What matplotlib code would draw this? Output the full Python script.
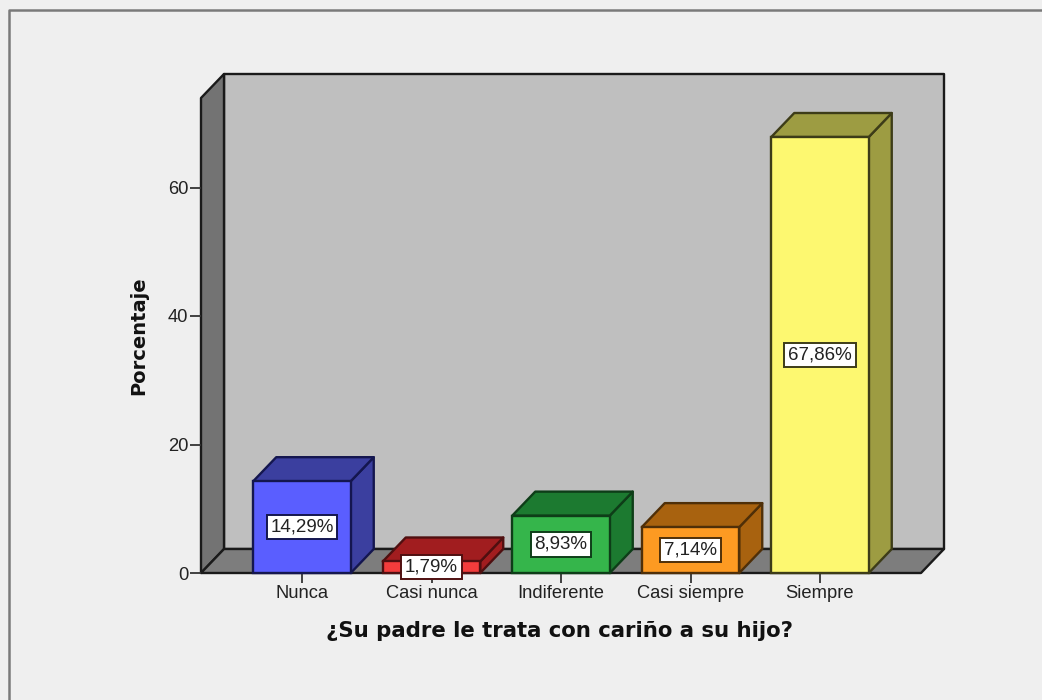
import matplotlib
matplotlib.use("Agg")
import matplotlib.pyplot as plt
from matplotlib.lines import Line2D
from matplotlib.patches import Polygon

categories = ["Nunca", "Casi nunca", "Indiferente", "Casi siempre", "Siempre"]
percent = [14.29, 1.79, 8.93, 7.14, 67.86]
percent_labels = ["14,29%", "1,79%", "8,93%", "7,14%", "67,86%"]
y_ticks = [0, 20, 40, 60]

front_colors = ["#5a5eff", "#f23c3c", "#35b54b", "#fd9a22", "#fdf870"]
shade_colors = ["#3b3f9f", "#a11d1f", "#1c7a30", "#a8620f", "#9d9c42"]
edge_colors = ["#14164f", "#4f0f10", "#0e3d18", "#4f2f08", "#3d3c18"]

FIG_W, FIG_H = 1042, 700
LEFT, RIGHT, BOTTOM, TOP = 201, 921, 573, 98
X0, X_STEP = 302, 129.5
Y_SCALE = 6.425
BG = "#efefef"
LINE = "#1a1a1a"

x_min = (LEFT - X0) / X_STEP
x_max = (RIGHT - X0) / X_STEP
y_max = (BOTTOM - TOP) / Y_SCALE
depth_x = 23 / X_STEP
depth_y = 24 / Y_SCALE
bar_width = 97.5 / X_STEP

plt.rcParams["font.family"] = ["Liberation Sans", "DejaVu Sans"]

fig = plt.figure(figsize=(FIG_W / 100, FIG_H / 100), dpi=100, facecolor=BG)
ax = fig.add_axes([
    LEFT / FIG_W,
    1 - BOTTOM / FIG_H,
    (RIGHT - LEFT) / FIG_W,
    (BOTTOM - TOP) / FIG_H,
])
ax.set_xlim(x_min, x_max)
ax.set_ylim(0, y_max)
ax.patch.set_visible(False)
for spine in ax.spines.values():
    spine.set_visible(False)


def add_face(points, color, edge=LINE, zorder=1):
    ax.add_patch(Polygon(points, closed=True, facecolor=color, edgecolor=edge,
                         linewidth=1.7, joinstyle="round", clip_on=False, zorder=zorder))


# back wall, side wall and floor of the 3D box
add_face([(x_min + depth_x, depth_y), (x_max + depth_x, depth_y),
          (x_max + depth_x, y_max + depth_y), (x_min + depth_x, y_max + depth_y)], "#bfbfbf")
add_face([(x_min, 0), (x_min + depth_x, depth_y),
          (x_min + depth_x, y_max + depth_y), (x_min, y_max)], "#737373")
add_face([(x_min, 0), (x_max, 0), (x_max + depth_x, depth_y), (x_min + depth_x, depth_y)], "#7d7d7d")

positions = list(range(len(categories)))
half = bar_width / 2
for pos, value, front, shade, edge, label in zip(
    positions, percent, front_colors, shade_colors, edge_colors, percent_labels
):
    add_face([(pos + half, 0), (pos + half + depth_x, depth_y),
              (pos + half + depth_x, value + depth_y), (pos + half, value)], shade, edge, 3)
    add_face([(pos - half, value), (pos + half, value),
              (pos + half + depth_x, value + depth_y), (pos - half + depth_x, value + depth_y)],
             shade, edge, 3)
    ax.bar(pos, value, width=bar_width, color=front, edgecolor=edge, linewidth=1.7,
           zorder=4, clip_on=False)
    ax.text(pos, value / 2, label, ha="center", va="center", fontsize=13.5, color="#222222", zorder=6,
            bbox=dict(boxstyle="square,pad=0.2", facecolor="white", edgecolor=edge, linewidth=1.4))

ax.set_xticks(positions)
ax.set_xticklabels(categories)
ax.set_yticks(y_ticks)
ax.tick_params(axis="x", length=7.5, width=1.3, color="#333333", labelsize=13.2,
               labelcolor="#222222", pad=1.5)
ax.tick_params(axis="y", length=8, width=1.3, color="#333333", labelsize=13.2,
               labelcolor="#222222", pad=1)

ax.set_xlabel("¿Su padre le trata con cariño a su hijo?", family="DejaVu Sans", fontweight="bold",
              fontsize=15.3, color="#111111")
ax.xaxis.set_label_coords((560 - LEFT) / (RIGHT - LEFT), -(631 - BOTTOM) / (BOTTOM - TOP),
                          transform=ax.transAxes)
ax.xaxis.label.set_va("center")
ax.set_ylabel("Porcentaje", family="DejaVu Sans", fontweight="bold", fontsize=14, color="#111111")
ax.yaxis.set_label_coords((139 - LEFT) / (RIGHT - LEFT), (BOTTOM - 336) / (BOTTOM - TOP),
                          transform=ax.transAxes)
ax.yaxis.label.set_va("center")

# outer chart frame, cut off at the right and bottom of the image
frame = Line2D([9 / FIG_W, 9 / FIG_W, 1], [0, 1 - 10 / FIG_H, 1 - 10 / FIG_H],
               transform=fig.transFigure, color="#7a7a7a", linewidth=1.8)
fig.add_artist(frame)

fig.savefig("out.png", dpi=100, facecolor=BG)
plt.close(fig)
